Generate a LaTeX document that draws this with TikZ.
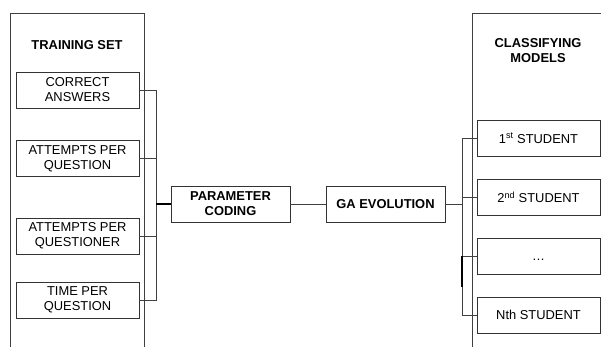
\documentclass[tikz,border=0pt]{standalone}
\usepackage{fontspec}
\setmainfont{Liberation Sans}
\begin{document}
\begin{tikzpicture}[x=1pt,y=-1pt,
  lnc/.style={draw=black!75,line width=0.8pt},
  box/.style={draw=black!80,line width=0.8pt,minimum width=123pt,minimum height=36pt,inner sep=0pt,align=center,
    font=\fontsize{12.9}{15}\selectfont},
  cbox/.style={box,minimum width=119pt,font=\fontsize{12.9}{15}\selectfont\bfseries},
  ttl/.style={align=center,font=\fontsize{12.9}{15}\selectfont\bfseries}]
\useasboundingbox (0,0) rectangle (601,347);
\clip (0,0) rectangle (601,347);
% panels
\draw[lnc] (10,350) -- (10,13) -- (144,13) -- (144,350);
\draw[lnc] (472,350) -- (472,13) -- (610,13);
\node[ttl] (ts) at (77,45) {TRAINING SET};
\node[ttl] (cm) at (538,51) {CLASSIFYING\\MODELS};
% left boxes
\node[box] (b1) at (77.5,90) {CORRECT\\ANSWERS};
\node[box] (b2) at (77.5,158.5) {ATTEMPTS PER\\QUESTION};
\node[box] (b3) at (77.5,236) {ATTEMPTS PER\\QUESTIONER};
\node[box] (b4) at (77.5,300) {TIME PER\\QUESTION};
% centre boxes
\node[cbox] (pc) at (230.5,204) {PARAMETER\\CODING};
\node[cbox] (ga) at (385.5,204) {GA EVOLUTION};
% right boxes
\node[box] (s1) at (538.5,138) {1\textsuperscript{st} STUDENT};
\node[box] (s2) at (538.5,197) {2\textsuperscript{nd} STUDENT};
\node[box] (s3) at (538.5,256) {\vphantom{ST}\dots};
\node[box] (s4) at (538.5,315) {Nth STUDENT};
% buses
\coordinate (lbus) at (156,0);
\coordinate (rbus) at (462,0);
\coordinate (rthick) at (462,287);
\draw[lnc] (b1.east) -- (b1.east -| lbus) -- (b4.east -| lbus) -- (b4.east);
\draw[lnc] (b2.east) -- (b2.east -| lbus);
\draw[lnc] (b3.east) -- (b3.east -| lbus);
\draw[draw=black,line width=1.6pt] (pc.west -| lbus) -- (pc.west);
\draw[lnc] (pc.east) -- (ga.west);
\draw[lnc] (ga.east) -- (ga.east -| rbus);
\draw[lnc] (s1.west) -- (s1.west -| rbus) -- (s4.west -| rbus) -- (s4.west);
\draw[lnc] (s2.west) -- (s2.west -| rbus);
\draw[lnc] (s3.west) -- (s3.west -| rbus);
\draw[draw=black,line width=1.4pt] (s3.west -| rbus) -- (rthick);
\end{tikzpicture}
\end{document}
